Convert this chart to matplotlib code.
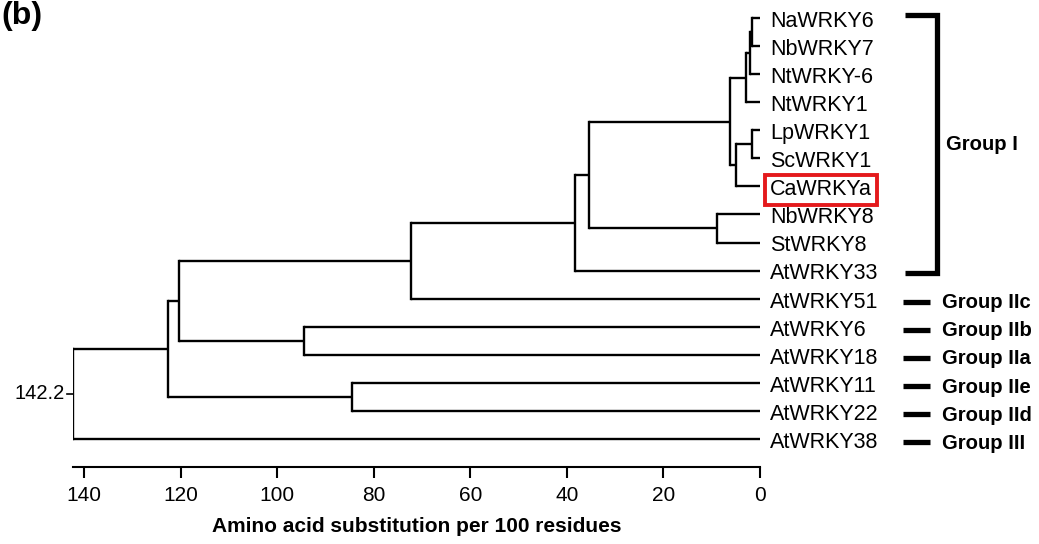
import matplotlib
matplotlib.use('Agg')
import matplotlib.pyplot as plt
from matplotlib import transforms

plt.rcParams['font.family'] = ['Liberation Sans', 'DejaVu Sans']

# leaves, top to bottom
leaves = ['NaWRKY6', 'NbWRKY7', 'NtWRKY-6', 'NtWRKY1', 'LpWRKY1', 'ScWRKY1',
          'CaWRKYa', 'NbWRKY8', 'StWRKY8', 'AtWRKY33', 'AtWRKY51', 'AtWRKY6',
          'AtWRKY18', 'AtWRKY11', 'AtWRKY22', 'AtWRKY38']

# internal nodes: left child, right child, distance (children listed before parents)
node_ids = ['T1', 'T2', 'T3', 'LS', 'L', 'G', 'H', 'F', 'E', 'D', 'K', 'B', 'C', 'A', 'R']
node_left = ['NaWRKY6', 'T1', 'T2', 'LpWRKY1', 'LS', 'T3', 'NbWRKY8', 'G', 'F', 'E',
             'AtWRKY6', 'D', 'AtWRKY11', 'B', 'A']
node_right = ['NbWRKY7', 'NtWRKY-6', 'NtWRKY1', 'ScWRKY1', 'CaWRKYa', 'L', 'StWRKY8',
              'H', 'AtWRKY33', 'AtWRKY51', 'AtWRKY18', 'K', 'AtWRKY22', 'C', 'AtWRKY38']
node_dist = [1.7, 2.0, 2.8, 1.7, 5.0, 6.2, 9.0, 35.4, 38.3, 72.3, 94.4, 120.3, 84.5, 122.6, 142.2]

highlight = 'CaWRKYa'

# groups: label, first leaf row, last leaf row
group_names = ['Group I', 'Group IIc', 'Group IIb', 'Group IIa', 'Group IIe', 'Group IId', 'Group III']
group_first = [0, 10, 11, 12, 13, 14, 15]
group_last = [9, 10, 11, 12, 13, 14, 15]

xticks = [140, 120, 100, 80, 60, 40, 20, 0]

W, H = 1039, 544
fig = plt.figure(figsize=(W / 100, H / 100), dpi=100)
ax = fig.add_axes([73.3 / W, 1 - 467 / H, (760 - 73.3) / W, (467 - 1.2) / H])
ax.set_xlim(node_dist[-1], 0)
ax.set_ylim(16, -0.6)

lw = 1.7
pos = {}
for i, name in enumerate(leaves):
    pos[name] = (0.0, float(i))

for nid, l, r, d in zip(node_ids, node_left, node_right, node_dist):
    xl, yl = pos[l]
    xr, yr = pos[r]
    ax.plot([d, d], [yl, yr], color='k', lw=lw, solid_capstyle='projecting')
    ax.plot([d, xl], [yl, yl], color='k', lw=lw, solid_capstyle='butt', clip_on=False)
    ax.plot([d, xr], [yr, yr], color='k', lw=lw, solid_capstyle='butt', clip_on=False)
    pos[nid] = (d, (yl + yr) / 2)

# root marker
rx, ry = pos[node_ids[-1]]
ax.plot([rx + 1.3, rx], [ry, ry], color='k', lw=1.2, clip_on=False)
ax.text(rx + 1.7, ry, '{:.1f}'.format(rx), ha='right', va='center', fontsize=14.5)

# leaf labels
blend = transforms.blended_transform_factory(fig.transFigure, ax.transData)
for i, name in enumerate(leaves):
    if name == highlight:
        ax.text(770 / W, i + 0.12, name, transform=blend, ha='left', va='center',
                fontsize=15.5,
                bbox=dict(boxstyle='square,pad=0.22', fc='none', ec='#e41a1c', lw=2.8))
    else:
        ax.text(770 / W, i + 0.12, name, transform=blend, ha='left', va='center',
                fontsize=15.5)

# group brackets
for name, a, b in zip(group_names, group_first, group_last):
    if a == b:
        ax.plot([903 / W, 930 / W], [a + 0.12, a + 0.12], transform=blend, color='k',
                lw=3.8, solid_capstyle='butt', clip_on=False)
        ax.text(942 / W, a + 0.15, name, transform=blend, ha='left', va='center',
                fontsize=14.6, fontweight='bold')
    else:
        ax.plot([905 / W, 937 / W, 937 / W, 905 / W], [a - 0.1, a - 0.1, b + 0.1, b + 0.1],
                transform=blend, color='k', lw=3.8, solid_joinstyle='miter',
                solid_capstyle='butt', clip_on=False)
        ax.text(946 / W, (a + b) / 2, name, transform=blend, ha='left', va='center',
                fontsize=14.6, fontweight='bold')

for s in ['left', 'right', 'top']:
    ax.spines[s].set_visible(False)
ax.spines['bottom'].set_linewidth(1.5)
ax.set_yticks([])
ax.set_xticks(xticks)
ax.tick_params(axis='x', direction='out', length=8, width=1.5, labelsize=15, pad=6)
ax.set_xlabel('Amino acid substitution per 100 residues', fontsize=15,
              fontweight='bold', labelpad=8)

fig.text(0.001, 0.999, '(b)', ha='left', va='top', fontsize=23, fontweight='bold')

fig.savefig('out.png', dpi=100)
